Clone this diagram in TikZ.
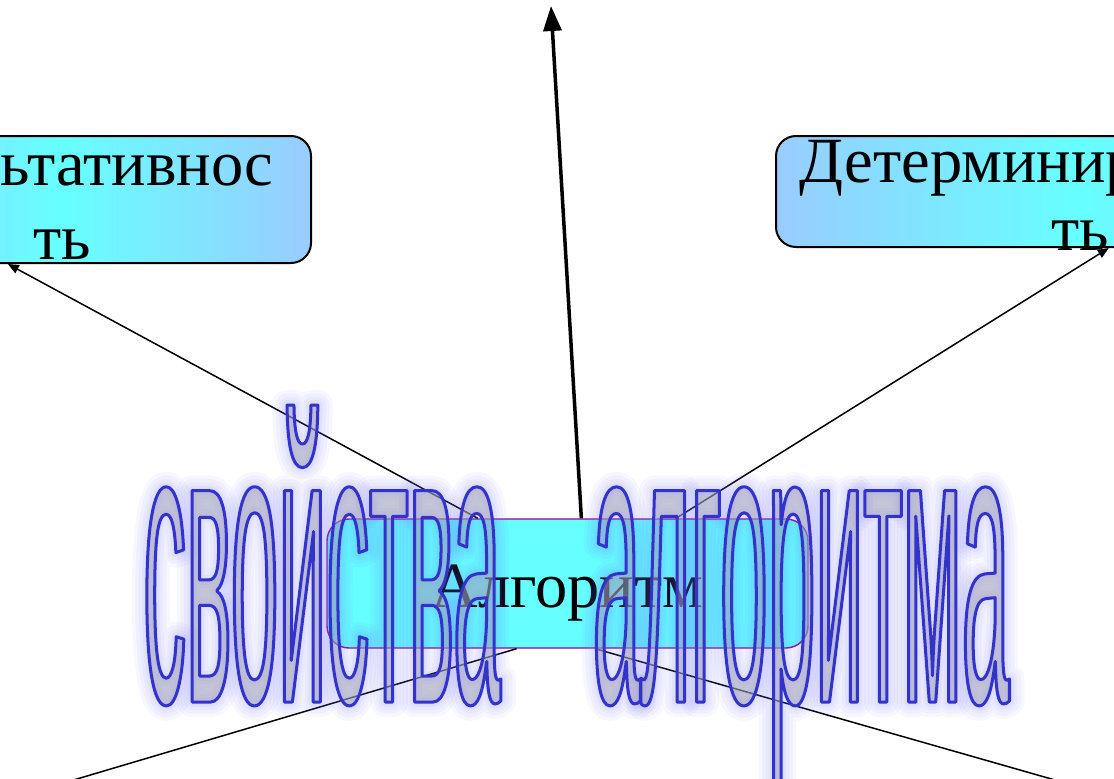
\documentclass[tikz,border=0pt]{standalone}
\usepackage{fontspec}
\setmainfont{Liberation Serif}
\newfontfamily\wafont[FakeStretch=0.2145]{Liberation Sans}
\usetikzlibrary{arrows.meta}
\definecolor{cy}{HTML}{66FFFF}
\definecolor{lbl}{HTML}{99CCFF}
\definecolor{pur}{HTML}{990099}
\definecolor{wafill}{HTML}{A0A0B8}
\newcommand\pdftr[1]{\special{pdf:literal direct #1}}
\tikzset{
  sidebox/.style={draw=black, line width=2pt, rounded corners=20pt,
    left color=lbl, right color=lbl, middle color=cy, inner sep=0pt},
  algbox/.style={draw=pur, line width=1.4pt, rounded corners=22pt, fill=cy,
    minimum width=481pt, minimum height=129pt, inner sep=0pt,
    font=\fontsize{64.5}{68}\selectfont, text height=47pt, text depth=0pt},
  boxtext/.style={align=center, inner sep=0pt},
  thinarrow/.style={line width=1.5pt, -{Triangle[length=11pt,width=9pt]}},
  thickarrow/.style={line width=3.5pt, -{Triangle[length=25pt,width=18pt]}},
  wordart/.style={anchor=base west, inner sep=0pt, text=wafill}
}
\begin{document}
\begin{tikzpicture}[x=1pt,y=-1pt]
\useasboundingbox (0,0) rectangle (1114,779);
\clip (0,0) rectangle (1114,779);
% boxes
\node[sidebox, minimum width=498pt, minimum height=127pt] (res) at (62,199.5) {};
\node[boxtext, font=\fontsize{64.5}{74}\selectfont] (restxt) at (62,200.9) {Результативнос\\ть};
\node[sidebox, minimum width=608pt, minimum height=111pt] (det) at (1080,191.5) {};
\node[boxtext, font=\fontsize{64.5}{68}\selectfont] (dettxt) at (1080,194.9) {Детерминированнос\\ть};
\node[algbox] (alg) at (567.5,583.5) {Алгоритм};
% free ends
\coordinate (topend) at (551,6);
\coordinate (blend) at (6,800);
\coordinate (brend) at (1125,800);
% connectors
\draw[thickarrow] (alg.78) -- (topend);
\draw[thinarrow] (alg.144) -- (res.230);
\draw[thinarrow] (alg.31) -- (det.297);
\draw[thinarrow] (alg.232.5) -- (blend);
\draw[thinarrow] (alg.293.8) -- (brend);
% word art
\node[wordart] (title) at (143,702) {\wafont\fontsize{400}{400}\selectfont
  \setbox0\hbox{свойства\hspace{92pt}алгоритма}%
  \pgfsetstrokeopacity{0.06}%
  \pdftr{1 Tr 30 w 0.45 0.45 1 RG 1 J 1 j}\rlap{\copy0}%
  \pdftr{23 w}\rlap{\copy0}%
  \pdftr{16 w}\rlap{\copy0}%
  \pdftr{10 w}\rlap{\copy0}%
  \pdftr{5 w}\rlap{\copy0}%
  \pgfsetstrokeopacity{1}\pgfsetfillopacity{0.55}%
  \pdftr{2 Tr 3 w 0.2 0.2 0.8 RG}\copy0
  \pdftr{0 Tr}};
\end{tikzpicture}
\end{document}
